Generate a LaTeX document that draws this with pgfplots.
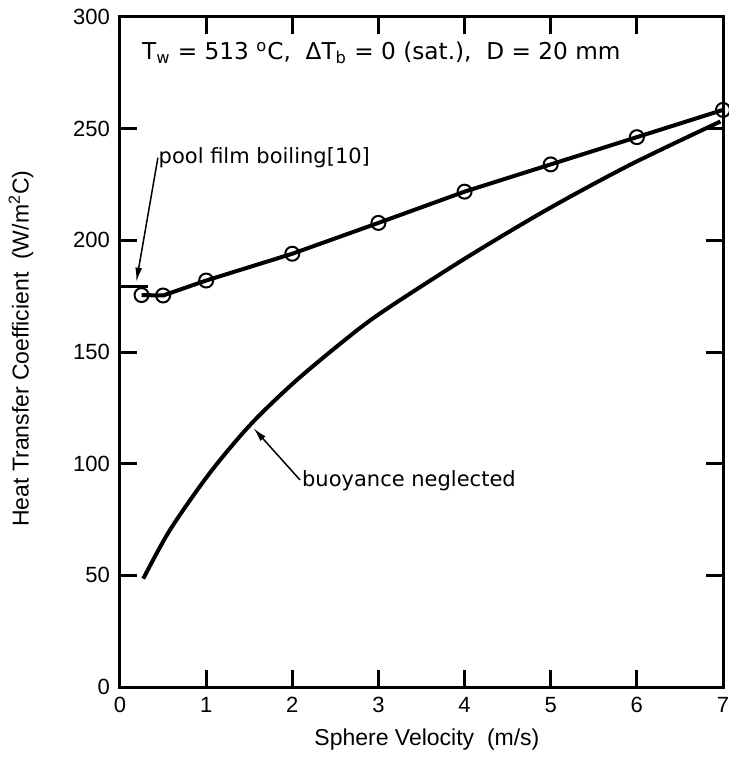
\documentclass[border=0pt]{standalone}
\usepackage{pgfplots}
\pgfplotsset{compat=1.18}
\usetikzlibrary{arrows.meta}
\usepackage{fontspec}
\setmainfont{Liberation Sans}
\newfontfamily\annfont{DejaVu Sans}
\begin{document}
\begin{tikzpicture}
\useasboundingbox (-60pt,-44.5pt) rectangle (304pt,343.5pt);
\begin{axis}[
  at={(0,0)}, anchor=south west,
  scale only axis, width=301.5pt, height=335pt,
  xmin=0, xmax=7, ymin=0, ymax=300,
  xtick={0,1,...,7}, ytick={0,50,...,300},
  tick align=inside, major tick length=8.5pt,
  axis line style={line width=1.5pt},
  every tick/.style={line width=1.5pt, black},
  xticklabel style={font=\fontsize{11}{13}\selectfont, yshift=-1.5pt},
  yticklabel style={font=\fontsize{11}{13}\selectfont, xshift=-1.5pt},
  /pgf/number format/assume math mode=true,
  clip=false,
  xlabel={Sphere Velocity\ \ (m/s)},
  ylabel={Heat Transfer Coefficient\ \ (W/m\textsuperscript{2}C)},
  every axis x label/.style={at={(axis description cs:0.509,-0.079)}, anchor=center,
                             font=\fontsize{11.5}{13}\selectfont},
  every axis y label/.style={at={(axis description cs:-0.164,0.505)}, rotate=90, anchor=center,
                             font=\fontsize{11.5}{13}\selectfont},
]
% full model, computed points
\addplot[line width=2pt, black, mark=o, mark size=3.5pt,
         mark options={line width=1pt, solid}]
  coordinates {(0.25,175.5) (0.5,175.3) (1,182) (2,194) (3,207.8)
               (4,221.8) (5,234) (6,246.2) (7,258.4)};
% buoyancy term dropped
\addplot[line width=2pt, black, smooth, tension=0.5]
  coordinates {(0.27,48.5) (0.58,70.3) (1.04,95.7) (1.51,117.3) (2.01,136)
               (2.55,153.5) (3.02,167.3) (3.99,191.5) (4.95,213.6)
               (5.92,233.8) (6.97,253.2)};
% pool film boiling correlation level
\addplot[line width=1.5pt, black] coordinates {(0,179.5) (0.33,179.5)};

\node[anchor=base west, inner sep=0pt, font=\annfont\fontsize{11.6}{14}\selectfont]
  at (axis cs:0.252,280.8)
  {T\textsubscript{w} = 513 \textsuperscript{o}C,\ \ ΔT\textsubscript{b} = 0 (sat.),\ \ D = 20 mm};

\node[anchor=base west, inner sep=0pt, font=\annfont\fontsize{10.5}{12}\selectfont]
  at (axis cs:0.445,234.5) {pool film boiling[10]};
\draw[line width=0.75pt, -{Latex[length=7pt,width=3.5pt]}]
  (axis cs:0.44,237) -- (axis cs:0.19,181.5);

\node[anchor=base west, inner sep=0pt, font=\annfont\fontsize{10.5}{12}\selectfont]
  at (axis cs:2.11,89.7) {buoyance neglected};
\draw[line width=0.75pt, -{Latex[length=7pt,width=3.5pt]}]
  (axis cs:2.09,92.7) -- (axis cs:1.55,115.9);
\end{axis}
\end{tikzpicture}
\end{document}
